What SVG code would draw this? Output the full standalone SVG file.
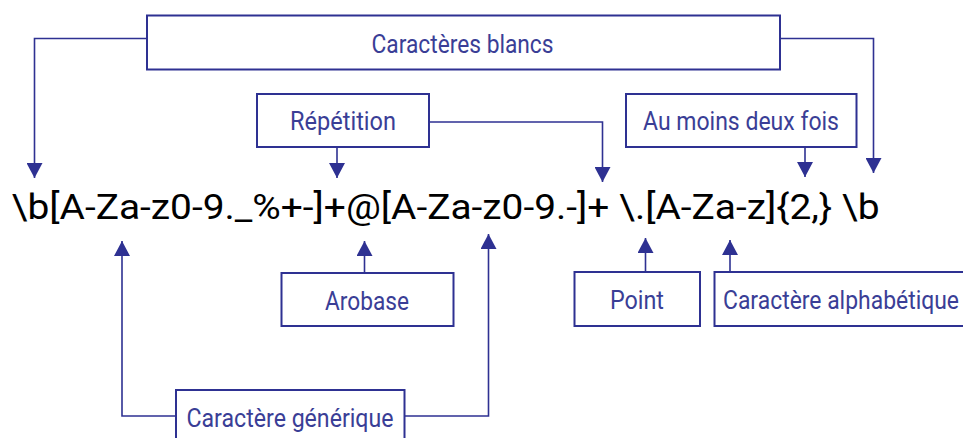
<svg xmlns="http://www.w3.org/2000/svg" width="963" height="438" viewBox="0 0 963 438">
<style>
.box{fill:#fff;stroke:#2e3192;stroke-width:2}
.lbl{font-family:Roboto,"Liberation Sans",sans-serif;font-weight:400;font-size:26px;fill:#3a3e96;text-anchor:middle}
.con{fill:none;stroke:#2e3192;stroke-width:1.6}
.main{font-family:Roboto,"Liberation Sans",sans-serif;font-weight:400;font-size:35px;fill:#000}
</style>
<defs>
<marker id="arr" markerUnits="userSpaceOnUse" markerWidth="16" markerHeight="16" refX="15" refY="8" orient="auto">
<path d="M0,0 L15,8 L0,16 z" fill="#2e3192"/>
</marker>
</defs>
<rect width="963" height="438" fill="#fff"/>
<g id="connectors">
<path class="con" d="M147,38.5 H34.5 V178" marker-end="url(#arr)"/>
<path class="con" d="M780,38.5 H873.5 V173" marker-end="url(#arr)"/>
<path class="con" d="M337,147 V178" marker-end="url(#arr)"/>
<path class="con" d="M429,122 H602.5 V182" marker-end="url(#arr)"/>
<path class="con" d="M805,147 V177" marker-end="url(#arr)"/>
<path class="con" d="M176,416 H122 V241" marker-end="url(#arr)"/>
<path class="con" d="M404,416 H488.5 V234" marker-end="url(#arr)"/>
<path class="con" d="M364.5,273 V241" marker-end="url(#arr)"/>
<path class="con" d="M645.5,272 V238" marker-end="url(#arr)"/>
<path class="con" d="M730,272 V240" marker-end="url(#arr)"/>
</g>
<g id="regex">
<text class="main" x="11.5" y="219" textLength="868" lengthAdjust="spacingAndGlyphs">\b[A-Za-z0-9._%+-]+@[A-Za-z0-9.-]+ \.[A-Za-z]{2,} \b</text>
</g>
<g id="blancs">
<rect class="box" x="147" y="15.5" width="633" height="54"/>
<text class="lbl" x="462.5" y="52.5" textLength="182" lengthAdjust="spacingAndGlyphs">Caractères blancs</text>
</g>
<g id="repetition">
<rect class="box" x="257" y="94" width="172" height="53"/>
<text class="lbl" x="343" y="130" textLength="106" lengthAdjust="spacingAndGlyphs">Répétition</text>
</g>
<g id="deuxfois">
<rect class="box" x="626" y="94" width="230.5" height="53"/>
<text class="lbl" x="741" y="130" textLength="196" lengthAdjust="spacingAndGlyphs">Au moins deux fois</text>
</g>
<g id="arobase">
<rect class="box" x="281.5" y="273" width="172" height="53"/>
<text class="lbl" x="367" y="309.5" textLength="84" lengthAdjust="spacingAndGlyphs">Arobase</text>
</g>
<g id="generique">
<rect class="box" x="176" y="390" width="228.5" height="56"/>
<text class="lbl" x="290" y="427" textLength="207" lengthAdjust="spacingAndGlyphs">Caractère générique</text>
</g>
<g id="point">
<rect class="box" x="574.5" y="272" width="125.5" height="54"/>
<text class="lbl" x="637" y="309" textLength="54" lengthAdjust="spacingAndGlyphs">Point</text>
</g>
<g id="alphabetique">
<rect class="box" x="714.5" y="272" width="260" height="54"/>
<text class="lbl" x="841" y="309" textLength="236" lengthAdjust="spacingAndGlyphs">Caractère alphabétique</text>
</g>
</svg>
